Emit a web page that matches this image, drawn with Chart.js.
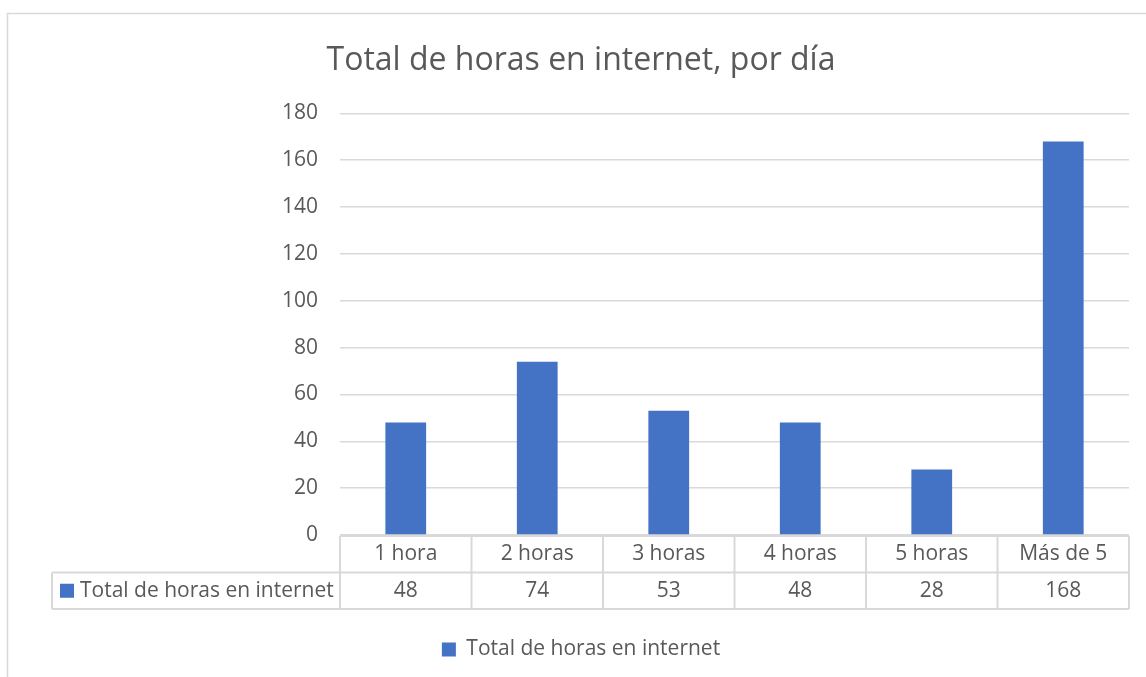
<!DOCTYPE html>
<html>
<head>
<meta charset="utf-8">
<title>Total de horas en internet, por día</title>
<script src="https://cdn.jsdelivr.net/npm/chart.js@4.4.0/dist/chart.umd.min.js"></script>
<style>
  html, body { margin: 0; padding: 0; background: #ffffff; }
  #wrap { position: relative; width: 1146px; height: 677px; }
</style>
</head>
<body>
<div id="wrap"><canvas id="myChart"></canvas></div>
<script>
// datos del gráfico
const categories = ['1 hora', '2 horas', '3 horas', '4 horas', '5 horas', 'Más de 5'];
const horas = [48, 74, 53, 48, 28, 168];
const seriesName = 'Total de horas en internet';
const chartTitle = 'Total de horas en internet, por día';
const yMax = 180;
const yStep = 20;

const textColor = '#595959';
const lineColor = '#d9d9d9';
const barColor = '#4472c4';
const fontFamily = '"Open Sans", Lato, sans-serif';
const labelSize = 21;

// Marco exterior del área del gráfico
const frame = {
    id: 'frame',
    beforeDraw(chart) {
        const ctx = chart.ctx;
        ctx.save();
        ctx.strokeStyle = lineColor;
        ctx.lineWidth = 1.5;
        ctx.beginPath();
        ctx.moveTo(7.5, chart.height);
        ctx.lineTo(7.5, 13.5);
        ctx.lineTo(chart.width, 13.5);
        ctx.stroke();
        ctx.restore();
    }
};

// Tabla de datos debajo del eje X (categorías + valores)
const dataTable = {
    id: 'dataTable',
    afterDraw(chart) {
        const ctx = chart.ctx;
        const xs = chart.scales.x;
        const area = chart.chartArea;
        const rowH = 36.5;
        const top = area.bottom + 1;
        const half = (xs.getPixelForValue(1) - xs.getPixelForValue(0)) / 2;
        const left = xs.getPixelForValue(0) - half;
        const right = xs.getPixelForValue(categories.length - 1) + half;
        const labelLeft = 52;

        ctx.save();
        ctx.strokeStyle = lineColor;
        ctx.lineWidth = 2;
        ctx.beginPath();
        // horizontales
        ctx.moveTo(left, top); ctx.lineTo(right, top);
        ctx.moveTo(labelLeft, top + rowH); ctx.lineTo(right, top + rowH);
        ctx.moveTo(labelLeft, top + 2 * rowH); ctx.lineTo(right, top + 2 * rowH);
        // verticales
        ctx.moveTo(labelLeft, top + rowH); ctx.lineTo(labelLeft, top + 2 * rowH);
        for (let i = 0; i <= categories.length; i++) {
            const x = left + i * half * 2;
            ctx.moveTo(x, top); ctx.lineTo(x, top + 2 * rowH);
        }
        ctx.stroke();

        ctx.fillStyle = textColor;
        ctx.font = labelSize + 'px ' + fontFamily;
        ctx.textAlign = 'center';
        ctx.textBaseline = 'middle';
        categories.forEach((c, i) => {
            const x = xs.getPixelForValue(i);
            ctx.fillText(c, x, top + rowH / 2);
            ctx.fillText(String(horas[i]), x, top + rowH * 1.5);
        });

        // clave de leyenda en la fila de valores
        ctx.fillStyle = barColor;
        ctx.fillRect(60, top + rowH * 1.5 - 7, 14, 14);
        ctx.fillStyle = textColor;
        ctx.textAlign = 'left';
        ctx.fillText(seriesName, 80, top + rowH * 1.5);
        ctx.restore();
    }
};

const ctx = document.getElementById('myChart').getContext('2d');
window.myChart = new Chart(ctx, {
    type: 'bar',
    data: {
        labels: categories,
        datasets: [{
            label: seriesName,
            data: horas,
            backgroundColor: barColor,
            borderWidth: 0,
            barPercentage: 0.31,
            categoryPercentage: 1
        }]
    },
    options: {
        responsive: true,
        maintainAspectRatio: false,
        animation: false,
        layout: {
            padding: { left: 33, right: 17, top: 0, bottom: 7 }
        },
        plugins: {
            title: {
                display: true,
                text: chartTitle,
                color: textColor,
                font: { family: fontFamily, size: 32, weight: 'normal' },
                padding: { top: 42, bottom: 33 }
            },
            legend: {
                position: 'bottom',
                labels: {
                    color: textColor,
                    font: { family: fontFamily, size: labelSize },
                    boxWidth: 14,
                    boxHeight: 14,
                    padding: 10
                }
            },
            tooltip: { enabled: false }
        },
        scales: {
            x: {
                grid: { display: false },
                border: { display: false },
                ticks: { display: false },
                afterFit(scale) { scale.height = 94; }
            },
            y: {
                min: 0,
                max: yMax,
                ticks: {
                    stepSize: yStep,
                    color: textColor,
                    font: { family: fontFamily, size: labelSize },
                    padding: 22
                },
                grid: { color: lineColor, lineWidth: 1.5, drawTicks: false },
                border: { display: false },
                afterFit(scale) { scale.width = 307; }
            }
        }
    },
    plugins: [frame, dataTable]
});
</script>
</body>
</html>
